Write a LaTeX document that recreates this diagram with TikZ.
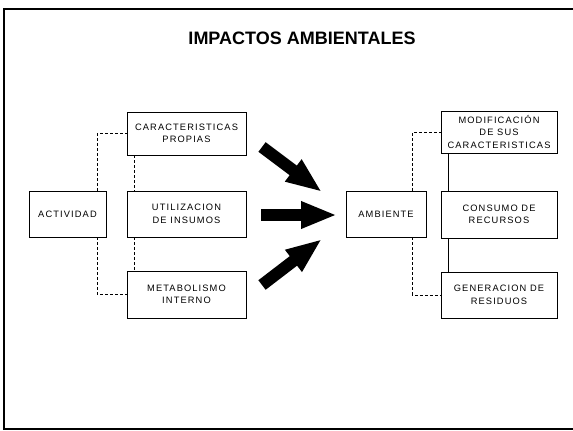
\documentclass[tikz,border=0pt]{standalone}
\usepackage{fontspec}
\setmainfont{Liberation Sans}
\newfontfamily\boxfont[LetterSpace=12]{Liberation Sans}
\usetikzlibrary{arrows.meta}
\tikzset{
  box/.style={draw=black, line width=0.9pt, fill=white, inner sep=0pt, align=center,
    font=\boxfont\fontsize{9.3}{12.5}\selectfont},
  conn/.style={draw=black, line width=0.8pt, densely dashed},
  connsolid/.style={draw=black, line width=0.9pt},
  bigarrow/.style={draw=black, line width=12pt, -{Triangle[length=36pt,width=25pt]}},
  frame/.style={draw=black, line width=1.6pt}
}
\begin{document}
\begin{tikzpicture}[x=1pt,y=-1pt]
\useasboundingbox (0,0) rectangle (573,431);
% frame
\coordinate (ftr) at (573,9);
\coordinate (ftl) at (4,9);
\coordinate (fbl) at (4,429);
\coordinate (fbr) at (573,429);
\draw[frame] (ftr) -- (ftl) -- (fbl) -- (fbr);
% title
\node[font=\bfseries\fontsize{18}{22}\selectfont, inner sep=0pt] (title) at (302,38.5) {IMPACTOS AMBIENTALES};
% left side
\node[box, minimum width=77pt, minimum height=46pt] (act) at (67.5,214) {ACTIVIDAD};
\node[box, minimum width=119pt, minimum height=43pt] (car) at (186.5,133.5) {CARACTERISTICAS\\PROPIAS};
\node[box, minimum width=119pt, minimum height=46pt] (uti) at (186.5,214) {UTILIZACION\\DE INSUMOS};
\node[box, minimum width=119pt, minimum height=47pt] (met) at (186.5,294.5) {METABOLISMO\\INTERNO};
% right side
\node[box, minimum width=80pt, minimum height=46pt] (amb) at (386,214) {AMBIENTE};
\node[box, minimum width=116pt, minimum height=42pt] (mod) at (499,132) {MODIFICACIÓN\\DE SUS\\CARACTERISTICAS};
\node[box, minimum width=116pt, minimum height=47pt] (con) at (499,214.5) {CONSUMO DE\\RECURSOS};
\node[box, minimum width=116pt, minimum height=46pt] (gen) at (499,295) {GENERACION DE\\RESIDUOS};
% connectors left
\draw[conn] ([xshift=-9pt]act.north east) |- (car.west);
\draw[conn] ([xshift=-9pt]act.south east) |- (met.west);
\draw[conn] ([xshift=8pt]car.south west) -- ([xshift=8pt]uti.north west);
\draw[conn] ([xshift=8pt]uti.south west) -- ([xshift=8pt]met.north west);
% connectors right
\draw[conn] ([xshift=-14pt]amb.north east) |- (mod.west);
\draw[conn] ([xshift=-14pt]amb.south east) |- (gen.west);
\draw[connsolid] ([xshift=8pt]mod.south west) -- ([xshift=8pt]con.north west);
\draw[connsolid] ([xshift=8pt]con.south west) -- ([xshift=8pt]gen.north west);
% big arrows
\coordinate (a1s) at (262,147);
\coordinate (a1e) at (322,192);
\coordinate (a2s) at (261,215);
\coordinate (a2e) at (337,215);
\coordinate (a3s) at (262,285);
\coordinate (a3e) at (322,239);
\draw[bigarrow] (a1s) -- (a1e);
\draw[bigarrow] (a2s) -- (a2e);
\draw[bigarrow] (a3s) -- (a3e);
\end{tikzpicture}
\end{document}
